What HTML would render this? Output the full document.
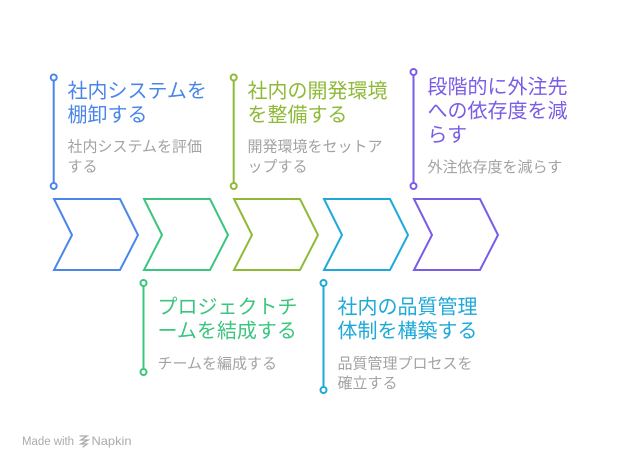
<!DOCTYPE html>
<html>
<head>
<meta charset="utf-8">
<style>
  html, body { margin: 0; padding: 0; background: #ffffff; }
  body { width: 618px; height: 469px; overflow: hidden; }
  svg { display: block; }
  text { font-family: "Liberation Sans", "Noto Sans CJK JP", sans-serif; }
  .t { font-size: 20px; font-weight: 400; }
  .s { font-size: 15px; fill: #a3a3a3; }
</style>
</head>
<body>
<svg width="618" height="469" viewBox="0 0 618 469" xmlns="http://www.w3.org/2000/svg">
  <!-- Chevrons -->
  <g fill="none" stroke-width="2" stroke-linejoin="miter">
    <polygon points="54,199 120,199 138,235 120,270 54,270 72,235" stroke="#4a86e8"/>
    <polygon points="144,199 210,199 228,235 210,270 144,270 162,235" stroke="#3cc57e"/>
    <polygon points="234,199 300,199 318,235 300,270 234,270 252,235" stroke="#8fba38"/>
    <polygon points="324,199 390,199 408,235 390,270 324,270 342,235" stroke="#1ea9d8"/>
    <polygon points="414,199 480,199 498,235 480,270 414,270 432,235" stroke="#7a5ce6"/>
  </g>

  <!-- Connector lines -->
  <g stroke-width="2" fill="#ffffff">
    <line x1="53.7" y1="77.5" x2="53.7" y2="186" stroke="#4a86e8"/>
    <circle cx="53.7" cy="77.5" r="3" stroke="#4a86e8"/>
    <circle cx="53.7" cy="186" r="3" stroke="#4a86e8"/>

    <line x1="233.7" y1="77.5" x2="233.7" y2="186" stroke="#8fba38"/>
    <circle cx="233.7" cy="77.5" r="3" stroke="#8fba38"/>
    <circle cx="233.7" cy="186" r="3" stroke="#8fba38"/>

    <line x1="413.5" y1="72" x2="413.5" y2="186" stroke="#7a5ce6"/>
    <circle cx="413.5" cy="72" r="3" stroke="#7a5ce6"/>
    <circle cx="413.5" cy="186" r="3" stroke="#7a5ce6"/>

    <line x1="143.5" y1="283" x2="143.5" y2="372" stroke="#3cc57e"/>
    <circle cx="143.5" cy="283" r="3" stroke="#3cc57e"/>
    <circle cx="143.5" cy="372" r="3" stroke="#3cc57e"/>

    <line x1="323.5" y1="283" x2="323.5" y2="390" stroke="#1ea9d8"/>
    <circle cx="323.5" cy="283" r="3" stroke="#1ea9d8"/>
    <circle cx="323.5" cy="390" r="3" stroke="#1ea9d8"/>
  </g>

  <!-- Item 1 -->
  <text class="t" x="67.5" y="97.4" fill="#4a86e8">社内システムを</text>
  <text class="t" x="67.5" y="121.4" fill="#4a86e8">棚卸する</text>
  <text class="s" x="67.5" y="151.5">社内システムを評価</text>
  <text class="s" x="67.5" y="171.5">する</text>

  <!-- Item 3 (olive) -->
  <text class="t" x="247.5" y="97.4" fill="#8fba38">社内の開発環境</text>
  <text class="t" x="247.5" y="121.4" fill="#8fba38">を整備する</text>
  <text class="s" x="247.5" y="151.5">開発環境をセットア</text>
  <text class="s" x="247.5" y="171.5">ップする</text>

  <!-- Item 5 (purple) -->
  <text class="t" x="427.5" y="93.4" fill="#7a5ce6">段階的に外注先</text>
  <text class="t" x="427.5" y="117.4" fill="#7a5ce6">への依存度を減</text>
  <text class="t" x="427.5" y="141.4" fill="#7a5ce6">らす</text>
  <text class="s" x="427.5" y="172">外注依存度を減らす</text>

  <!-- Item 2 (green) -->
  <text class="t" x="157.5" y="313.4" fill="#3cc57e">プロジェクトチ</text>
  <text class="t" x="157.5" y="337.4" fill="#3cc57e">ームを結成する</text>
  <text class="s" x="157.5" y="368.5">チームを編成する</text>

  <!-- Item 4 (cyan) -->
  <text class="t" x="337.5" y="313.4" fill="#1ea9d8">社内の品質管理</text>
  <text class="t" x="337.5" y="337.4" fill="#1ea9d8">体制を構築する</text>
  <text class="s" x="337.5" y="368.5">品質管理プロセスを</text>
  <text class="s" x="337.5" y="388">確立する</text>

  <!-- Footer -->
  <text x="22" y="445" font-size="11.5" fill="#ababab" textLength="52" lengthAdjust="spacingAndGlyphs">Made with</text>
  <g stroke="#ababab" stroke-width="1.3" fill="none" stroke-linecap="round">
    <path d="M80,436 L87,436 L81,440 L88,440 L81,444 L87,444 L83,447"/>
  </g>
  <text x="91.5" y="445" font-size="12" fill="#ababab" textLength="40" lengthAdjust="spacingAndGlyphs">Napkin</text>
</svg>
</body>
</html>
